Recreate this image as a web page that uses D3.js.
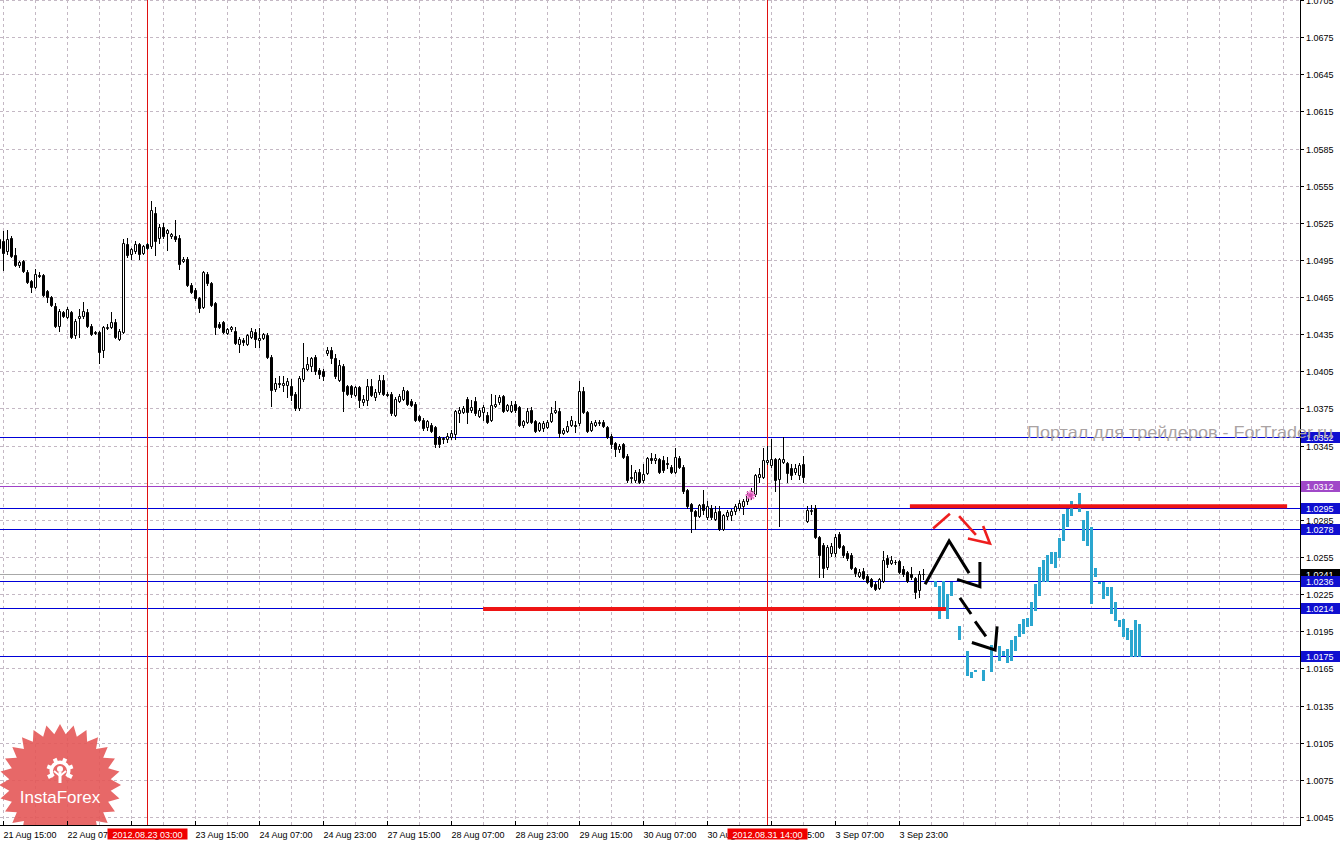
<!DOCTYPE html>
<html><head><meta charset="utf-8">
<script src="https://cdn.jsdelivr.net/npm/d3@7"></script>
<style>
body{margin:0;background:#fff;}
svg{display:block;}
text{font-family:"Liberation Sans",Arial,sans-serif;}
</style>
</head><body>
<svg id="c" width="1343" height="846"></svg>
<script>
// ---------------- DATA ----------------
const firstBar = -1; // bar index of first candle (H1 bars, bar 0 = 21 Aug 15:00)
const candleOpen = [1.0505,
1.0510,1.0502,1.0513,1.0499,1.0491,1.0494,1.0485,1.0478,1.0473,1.0483,
1.0483,1.0470,1.0465,1.0458,1.0442,1.0453,1.0449,1.0453,1.0434,1.0448,
1.0450,1.0453,1.0442,1.0437,1.0437,1.0422,1.0440,1.0441,1.0445,1.0431,
1.0437,1.0508,1.0500,1.0502,1.0508,1.0501,1.0508,1.0506,1.0533,1.0513,
1.0522,1.0517,1.0514,1.0514,1.0513,1.0494,1.0496,1.0475,1.0471,1.0464,
1.0457,1.0484,1.0476,1.0460,1.0443,1.0445,1.0436,1.0439,1.0438,1.0427,
1.0430,1.0427,1.0433,1.0437,1.0430,1.0432,1.0434,1.0417,1.0391,1.0396,
1.0394,1.0394,1.0393,1.0387,1.0375,1.0399,1.0407,1.0409,1.0417,1.0406,
1.0405,1.0420,1.0422,1.0416,1.0398,1.0409,1.0393,1.0393,1.0386,1.0392,
1.0380,1.0382,1.0393,1.0384,1.0388,1.0398,1.0387,1.0387,1.0370,1.0381,
1.0383,1.0389,1.0381,1.0379,1.0369,1.0366,1.0360,1.0362,1.0360,1.0352,
1.0351,1.0350,1.0352,1.0354,1.0371,1.0372,1.0383,1.0374,1.0381,1.0369,
1.0372,1.0370,1.0366,1.0377,1.0380,1.0385,1.0374,1.0373,1.0379,1.0376,
1.0362,1.0364,1.0374,1.0365,1.0358,1.0359,1.0360,1.0365,1.0372,1.0373,
1.0355,1.0357,1.0362,1.0362,1.0363,1.0389,1.0372,1.0358,1.0362,1.0363,
1.0364,1.0360,1.0353,1.0347,1.0342,1.0346,1.0337,1.0320,1.0317,1.0324,
1.0317,1.0323,1.0335,1.0333,1.0334,1.0333,1.0331,1.0328,1.0324,1.0335,
1.0328,1.0309,1.0298,1.0292,1.0288,1.0298,1.0287,1.0295,1.0286,1.0292,
1.0278,1.0288,1.0289,1.0292,1.0295,1.0296,1.0300,1.0305,1.0306,1.0320,
1.0320,1.0332,1.0329,1.0334,1.0318,1.0332,1.0331,1.0327,1.0324,1.0321,
1.0330,1.0284,1.0292,1.0295,1.0271,1.0265,1.0247,1.0258,1.0258,1.0274,
1.0264,1.0258,1.0257,1.0246,1.0240,1.0244,1.0240,1.0237,1.0233,1.0230,
1.0236,1.0254,1.0250,1.0251,1.0252,1.0245,1.0243,1.0241,1.0238,1.0228,1.0241];
const candleHigh = [1.0515,
1.0518,1.0519,1.0514,1.0505,1.0494,1.0495,1.0487,1.0479,1.0488,1.0485,
1.0484,1.0471,1.0466,1.0460,1.0455,1.0454,1.0457,1.0454,1.0447,1.0455,
1.0461,1.0455,1.0443,1.0438,1.0438,1.0442,1.0443,1.0453,1.0447,1.0439,
1.0512,1.0513,1.0505,1.0510,1.0509,1.0507,1.0509,1.0543,1.0538,1.0524,
1.0525,1.0520,1.0517,1.0527,1.0515,1.0497,1.0497,1.0476,1.0472,1.0465,
1.0486,1.0485,1.0477,1.0461,1.0445,1.0446,1.0440,1.0442,1.0441,1.0433,
1.0432,1.0435,1.0440,1.0439,1.0440,1.0436,1.0436,1.0418,1.0400,1.0401,
1.0401,1.0400,1.0399,1.0388,1.0401,1.0428,1.0417,1.0417,1.0418,1.0408,
1.0407,1.0425,1.0425,1.0419,1.0414,1.0411,1.0394,1.0394,1.0393,1.0393,
1.0386,1.0399,1.0399,1.0391,1.0402,1.0402,1.0388,1.0388,1.0384,1.0387,
1.0392,1.0390,1.0383,1.0380,1.0370,1.0367,1.0366,1.0363,1.0361,1.0353,
1.0352,1.0355,1.0358,1.0374,1.0376,1.0377,1.0384,1.0382,1.0384,1.0375,
1.0378,1.0372,1.0387,1.0386,1.0386,1.0386,1.0379,1.0381,1.0381,1.0377,
1.0366,1.0375,1.0376,1.0366,1.0364,1.0365,1.0366,1.0376,1.0381,1.0375,
1.0359,1.0365,1.0369,1.0365,1.0397,1.0392,1.0373,1.0365,1.0366,1.0366,
1.0366,1.0361,1.0354,1.0348,1.0346,1.0347,1.0338,1.0329,1.0325,1.0326,
1.0330,1.0336,1.0339,1.0338,1.0335,1.0337,1.0336,1.0329,1.0343,1.0337,
1.0329,1.0310,1.0299,1.0293,1.0298,1.0309,1.0300,1.0297,1.0296,1.0296,
1.0290,1.0293,1.0294,1.0298,1.0301,1.0302,1.0308,1.0311,1.0322,1.0327,
1.0343,1.0345,1.0350,1.0335,1.0335,1.0352,1.0332,1.0330,1.0330,1.0331,
1.0337,1.0296,1.0297,1.0297,1.0272,1.0266,1.0265,1.0266,1.0274,1.0275,
1.0265,1.0260,1.0258,1.0247,1.0245,1.0246,1.0241,1.0238,1.0235,1.0238,
1.0260,1.0257,1.0256,1.0253,1.0253,1.0248,1.0244,1.0247,1.0239,1.0244,1.0245];
const candleLow = [1.0500,
1.0487,1.0500,1.0497,1.0490,1.0489,1.0485,1.0476,1.0469,1.0472,1.0481,
1.0466,1.0461,1.0458,1.0441,1.0438,1.0449,1.0448,1.0432,1.0432,1.0433,
1.0448,1.0441,1.0434,1.0435,1.0412,1.0417,1.0439,1.0440,1.0432,1.0430,
1.0436,1.0497,1.0496,1.0501,1.0496,1.0500,1.0504,1.0505,1.0499,1.0509,
1.0513,1.0503,1.0513,1.0510,1.0488,1.0493,1.0474,1.0468,1.0463,1.0453,
1.0456,1.0475,1.0458,1.0435,1.0440,1.0436,1.0435,1.0438,1.0427,1.0421,
1.0426,1.0426,1.0432,1.0425,1.0425,1.0431,1.0416,1.0377,1.0389,1.0392,
1.0389,1.0384,1.0382,1.0374,1.0374,1.0397,1.0406,1.0405,1.0403,1.0400,
1.0398,1.0418,1.0412,1.0400,1.0397,1.0373,1.0386,1.0384,1.0385,1.0376,
1.0378,1.0378,1.0385,1.0382,1.0387,1.0386,1.0385,1.0370,1.0369,1.0380,
1.0382,1.0378,1.0377,1.0365,1.0365,1.0358,1.0358,1.0356,1.0344,1.0344,
1.0347,1.0348,1.0350,1.0350,1.0364,1.0371,1.0363,1.0372,1.0370,1.0368,
1.0366,1.0363,1.0365,1.0376,1.0379,1.0372,1.0373,1.0372,1.0372,1.0361,
1.0360,1.0363,1.0363,1.0356,1.0357,1.0357,1.0359,1.0364,1.0371,1.0352,
1.0354,1.0356,1.0361,1.0356,1.0362,1.0371,1.0356,1.0357,1.0361,1.0362,
1.0360,1.0351,1.0343,1.0337,1.0340,1.0335,1.0316,1.0316,1.0316,1.0315,
1.0316,1.0322,1.0331,1.0331,1.0323,1.0324,1.0327,1.0323,1.0323,1.0327,
1.0307,1.0295,1.0275,1.0278,1.0287,1.0290,1.0286,1.0286,1.0285,1.0277,
1.0277,1.0286,1.0285,1.0290,1.0293,1.0290,1.0298,1.0302,1.0304,1.0316,
1.0319,1.0330,1.0328,1.0308,1.0280,1.0331,1.0316,1.0318,1.0322,1.0318,
1.0316,1.0283,1.0290,1.0270,1.0239,1.0239,1.0245,1.0256,1.0256,1.0262,
1.0255,1.0253,1.0245,1.0240,1.0239,1.0237,1.0234,1.0231,1.0228,1.0229,
1.0235,1.0247,1.0249,1.0249,1.0242,1.0240,1.0235,1.0237,1.0222,1.0223,1.0237];
const candleClose = [1.0512,
1.0501,1.0512,1.0498,1.0491,1.0493,1.0486,1.0477,1.0473,1.0484,1.0482,
1.0467,1.0465,1.0459,1.0442,1.0454,1.0450,1.0455,1.0433,1.0446,1.0450,
1.0454,1.0442,1.0435,1.0436,1.0421,1.0441,1.0441,1.0445,1.0433,1.0438,
1.0509,1.0499,1.0504,1.0508,1.0500,1.0506,1.0505,1.0535,1.0510,1.0522,
1.0514,1.0519,1.0516,1.0512,1.0492,1.0496,1.0475,1.0469,1.0464,1.0456,
1.0485,1.0476,1.0459,1.0441,1.0441,1.0437,1.0439,1.0441,1.0428,1.0431,
1.0429,1.0434,1.0438,1.0431,1.0432,1.0435,1.0417,1.0390,1.0396,1.0395,
1.0396,1.0397,1.0386,1.0375,1.0400,1.0408,1.0411,1.0416,1.0405,1.0403,
1.0401,1.0422,1.0416,1.0401,1.0410,1.0389,1.0387,1.0387,1.0392,1.0382,
1.0383,1.0393,1.0386,1.0388,1.0398,1.0387,1.0386,1.0371,1.0383,1.0385,
1.0390,1.0379,1.0378,1.0366,1.0366,1.0359,1.0365,1.0357,1.0346,1.0346,
1.0350,1.0353,1.0355,1.0373,1.0374,1.0375,1.0372,1.0376,1.0371,1.0374,
1.0376,1.0364,1.0378,1.0379,1.0384,1.0373,1.0378,1.0378,1.0374,1.0362,
1.0365,1.0373,1.0364,1.0357,1.0363,1.0363,1.0364,1.0371,1.0374,1.0355,
1.0358,1.0361,1.0366,1.0361,1.0389,1.0372,1.0357,1.0363,1.0364,1.0364,
1.0361,1.0352,1.0346,1.0342,1.0345,1.0336,1.0317,1.0319,1.0324,1.0316,
1.0322,1.0335,1.0333,1.0335,1.0324,1.0325,1.0330,1.0324,1.0336,1.0328,
1.0308,1.0296,1.0292,1.0288,1.0297,1.0293,1.0296,1.0287,1.0291,1.0278,
1.0289,1.0291,1.0292,1.0296,1.0299,1.0300,1.0306,1.0308,1.0321,1.0322,
1.0333,1.0333,1.0334,1.0317,1.0334,1.0334,1.0323,1.0321,1.0327,1.0329,
1.0320,1.0293,1.0293,1.0271,1.0257,1.0246,1.0263,1.0264,1.0271,1.0263,
1.0257,1.0254,1.0246,1.0242,1.0243,1.0238,1.0235,1.0232,1.0229,1.0237,
1.0253,1.0249,1.0253,1.0251,1.0243,1.0241,1.0236,1.0239,1.0227,1.0241,1.0241];

// forecast (cyan) bars
const fcBar    = [233,234,235,236,237,239,241,242,243,245,247,249,250,251,252,253,254,255,256,257,258,259,260,261,262,263,264,265,266,267,268,269,270,271,272,273,274,275,276,277,278,279,280,281,282,283,284];
const fcTop    = [1.0236,1.0232,1.0236,1.0225,1.0235,1.0199,1.0179,1.0162,1.0164,1.0164,1.0184,1.0183,1.0179,1.0181,1.0188,1.0191,1.0201,1.0205,1.0206,1.0219,1.0233,1.0247,1.0253,1.0257,1.0259,1.0259,1.0270,1.0290,1.0294,1.0300,1.0298,1.0307,1.0285,1.0292,1.0279,1.0246,1.0235,1.0235,1.0231,1.0231,1.0219,1.0204,1.0205,1.0198,1.0196,1.0204,1.0201];
const fcBottom = [1.0232,1.0206,1.0214,1.0206,1.0224,1.0189,1.0160,1.0158,1.0163,1.0156,1.0163,1.0172,1.0176,1.0170,1.0172,1.0180,1.0191,1.0194,1.0199,1.0200,1.0212,1.0224,1.0236,1.0236,1.0250,1.0247,1.0255,1.0269,1.0280,1.0289,1.0296,1.0292,1.0269,1.0265,1.0218,1.0240,1.0234,1.0222,1.0224,1.0210,1.0204,1.0199,1.0191,1.0189,1.0175,1.0175,1.0175];

// axis ticks
const priceTicks = [1.0045,1.0075,1.0105,1.0135,1.0165,1.0195,1.0225,1.0255,1.0285,1.0315,1.0345,1.0375,1.0405,1.0435,1.0465,1.0495,1.0525,1.0555,1.0585,1.0615,1.0645,1.0675,1.0705];
const timeTickBars = [0,16,32,48,64,80,96,112,128,144,160,176,192,208,224];
const timeTickLabels = ["21 Aug 15:00","22 Aug 07:00","22 Aug 23:00","23 Aug 15:00","24 Aug 07:00","24 Aug 23:00","27 Aug 15:00","28 Aug 07:00","28 Aug 23:00","29 Aug 15:00","30 Aug 07:00","30 Aug 23:00","31 Aug 15:00","3 Sep 07:00","3 Sep 23:00"];
const vlineBars = [36,191];
const vlineLabels = ["2012.08.23 03:00","2012.08.31 14:00"];

// horizontal levels
const levelPrices = [1.0352,1.0312,1.0295,1.0278,1.0241,1.0236,1.0214,1.0175];
const levelKinds  = ["blue","purple","blue","blue","bid","blue","blue","blue"];

// drawn annotations (bar index, price)
const redLevelUpper = [[226.6,1.0296],[320.9,1.0296]];
const redLevelLower = [[119.9,1.0213],[235.6,1.0213]];
const redStrokes = [
  [[232.4,1.0278],[236.6,1.0290]],
  [[238.9,1.0288],[243.1,1.0273]],
  [[241.1,1.0270],[246.6,1.0266],[244.9,1.0280]]
];
const blackStrokes = [
  [[230.4,1.0233],[236.4,1.0268],[241.4,1.0242]],
  [[238.4,1.0237],[244.1,1.0231],[244.1,1.0251]],
  [[239.1,1.0222],[241.9,1.0209]],
  [[242.9,1.0203],[245.6,1.0191]],
  [[242.1,1.0186],[247.9,1.0180],[248.4,1.0199]]
];
const markerPoint = [186.75,1.0305];

// ---------------- DRAW ----------------
const svg = d3.select('#c');
const plotR = 1300, plotB = 825;
const x = d3.scaleLinear().domain([0,1]).range([3.5,7.5]);
const y = d3.scaleLinear().domain([1.0045,1.0705]).range([817,0]);
const py = p => Math.round(y(p));
const colors = {blue:'#0000d8', purple:'#a040c8', bid:'#a8a8a8'};
const boxColors = {blue:'#1010d0', purple:'#a048c8', bid:'#000000'};

svg.append('rect').attr('width',1343).attr('height',846).attr('fill','#fff');

// grid
const gGrid = svg.append('g').attr('stroke','#c4b8c4').attr('stroke-width',1).attr('stroke-dasharray','3,3');
priceTicks.forEach(p=>{
  gGrid.append('line').attr('x1',0).attr('x2',plotR).attr('y1',py(p)+0.5).attr('y2',py(p)+0.5);
});
d3.range(0,321,8).forEach(k=>{
  gGrid.append('line').attr('x1',x(k)).attr('x2',x(k)).attr('y1',0).attr('y2',plotB);
});

// InstaForex logo
(function(){
  const cx=60, cy=785, N=28, R1=61, R2=51;
  const pts = d3.range(2*N).map(i=>{const a=i*Math.PI/N - Math.PI/2; const r=i%2?R2:R1; return [cx+r*Math.cos(a), cy+r*Math.sin(a)];});
  const g = svg.append('g');
  g.append('path').attr('d','M'+pts.map(p=>p.join(',')).join('L')+'Z').attr('fill','rgb(228,88,88)').attr('opacity',0.9);
  // gear
  const gc=[60,771];
  const arc = d3.arc().innerRadius(7).outerRadius(10.5).startAngle(-Math.PI*0.72).endAngle(Math.PI*0.72);
  g.append('path').attr('d',arc()).attr('transform',`translate(${gc[0]},${gc[1]})`).attr('fill','#fff');
  d3.range(-0.65,0.66,0.26).forEach(t=>{
    const a=t*Math.PI;
    g.append('rect').attr('x',-2).attr('y',-13.5).attr('width',4).attr('height',4).attr('fill','#fff')
     .attr('transform',`translate(${gc[0]},${gc[1]}) rotate(${a*180/Math.PI})`);
  });
  g.append('circle').attr('cx',gc[0]).attr('cy',gc[1]-2).attr('r',3).attr('fill','#fff');
  g.append('rect').attr('x',gc[0]-1.5).attr('y',gc[1]+1).attr('width',3).attr('height',11).attr('fill','#fff');
  g.append('path').attr('d',`M${gc[0]-6},${gc[1]}L${gc[0]},${gc[1]+5}L${gc[0]+6},${gc[1]}`).attr('stroke','#fff').attr('stroke-width',2).attr('fill','none');
  g.append('text').attr('x',cx).attr('y',803).attr('text-anchor','middle').attr('fill','#fff')
   .attr('font-size',17).attr('font-family','"Open Sans","Liberation Sans",sans-serif').text('InstaForex');
})();

// horizontal levels
levelPrices.forEach((p,i)=>{
  svg.append('line').attr('x1',0).attr('x2',plotR).attr('y1',py(p)+0.5).attr('y2',py(p)+0.5)
    .attr('stroke',colors[levelKinds[i]]).attr('stroke-width',1);
});

// vertical red lines
vlineBars.forEach(k=>{
  svg.append('line').attr('x1',x(k)).attr('x2',x(k)).attr('y1',0).attr('y2',plotB).attr('stroke','#e01010');
});

// candles
const gC = svg.append('g');
candleOpen.forEach((o,i)=>{
  const k = firstBar+i, cx = x(k);
  const h=candleHigh[i], l=candleLow[i], c=candleClose[i];
  gC.append('line').attr('x1',cx).attr('x2',cx).attr('y1',py(h)).attr('y2',py(l)+1).attr('stroke','#000');
  const t=py(Math.max(o,c)), b=py(Math.min(o,c));
  gC.append('path').attr('d',`M${cx-1},${t+0.5}H${cx+1}V${b+0.5}H${cx-1}Z`)
    .attr('fill', c>=o?'#fff':'#000').attr('stroke','#000').attr('stroke-width',1);
});

// forecast bars
const gF = svg.append('g');
fcBar.forEach((k,i)=>{
  const t=py(fcTop[i]), b=py(fcBottom[i]);
  gF.append('rect').attr('x',x(k)-1.5).attr('y',t).attr('width',3).attr('height',Math.max(2,b-t+1)).attr('fill','#2aa6cf');
});

// annotations
const ln = d3.line().x(d=>x(d[0])).y(d=>y(d[1]));
[redLevelUpper, redLevelLower].forEach(s=>{
  svg.append('path').attr('d',ln(s)).attr('stroke','#ee1414').attr('stroke-width',4).attr('fill','none');
});
redStrokes.forEach(s=>{
  svg.append('path').attr('d',ln(s)).attr('stroke','#ee1e1e').attr('stroke-width',2.6).attr('fill','none').attr('stroke-linejoin','miter');
});
blackStrokes.forEach(s=>{
  svg.append('path').attr('d',ln(s)).attr('stroke','#000').attr('stroke-width',3).attr('fill','none');
});
// pink marker
(function(){
  const mx=x(markerPoint[0]), my=y(markerPoint[1]);
  const g=svg.append('g').attr('stroke','#f07ad0').attr('stroke-width',2);
  [0,45,90,135].forEach(a=>{
    const r=5, rad=a*Math.PI/180;
    g.append('line').attr('x1',mx-r*Math.cos(rad)).attr('y1',my-r*Math.sin(rad)).attr('x2',mx+r*Math.cos(rad)).attr('y2',my+r*Math.sin(rad));
  });
  svg.append('circle').attr('cx',mx).attr('cy',my).attr('r',2).attr('fill','#d050b0');
})();

// axes
svg.append('rect').attr('x',plotR+1).attr('y',0).attr('width',42).attr('height',846).attr('fill','#fff');
svg.append('rect').attr('x',0).attr('y',plotB+1).attr('width',1343).attr('height',21).attr('fill','#fff');
svg.append('line').attr('x1',plotR+0.5).attr('x2',plotR+0.5).attr('y1',0).attr('y2',plotB+1).attr('stroke','#000');
svg.append('line').attr('x1',0).attr('x2',plotR+1).attr('y1',plotB+0.5).attr('y2',plotB+0.5).attr('stroke','#000');

const gA = svg.append('g').attr('font-size',9).attr('fill','#000');
priceTicks.forEach(p=>{
  gA.append('line').attr('x1',plotR).attr('x2',plotR+4).attr('y1',py(p)+0.5).attr('y2',py(p)+0.5).attr('stroke','#000');
  gA.append('text').attr('x',1306).attr('y',py(p)+4).text(p.toFixed(4));
});
timeTickBars.forEach((k,i)=>{
  gA.append('line').attr('x1',x(k)).attr('x2',x(k)).attr('y1',plotB-4).attr('y2',plotB).attr('stroke','#000');
  gA.append('text').attr('x',x(k)).attr('y',838).text(timeTickLabels[i]);
});
// vertical line labels
vlineBars.forEach((k,i)=>{
  svg.append('rect').attr('x',x(k)-40).attr('y',828.5).attr('width',80).attr('height',11).attr('fill','#f00000');
  svg.append('text').attr('x',x(k)).attr('y',838).attr('text-anchor','middle').attr('font-size',9).attr('fill','#fff').text(vlineLabels[i]);
});
// level price boxes
levelPrices.forEach((p,i)=>{
  svg.append('rect').attr('x',1301).attr('y',py(p)-5).attr('width',39).attr('height',11).attr('fill',boxColors[levelKinds[i]]);
  svg.append('text').attr('x',1306).attr('y',py(p)+4).attr('font-size',9).attr('fill','#fff').text(p.toFixed(4));
});

// watermark
svg.append('text').attr('x',1027).attr('y',438).attr('font-size',16.5).attr('fill','#aaa3a3')
  .attr('textLength',306).attr('lengthAdjust','spacingAndGlyphs')
  .text('Портал для трейдеров - ForTrader.ru');
</script>
</body></html>
